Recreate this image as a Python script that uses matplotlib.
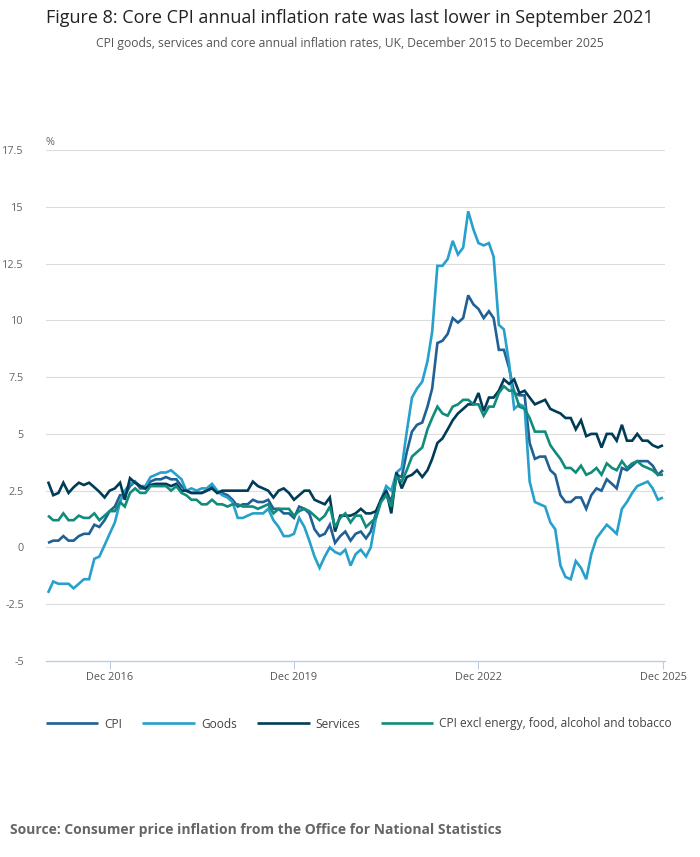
import matplotlib
matplotlib.use("Agg")
import matplotlib.pyplot as plt
import pandas as pd

plt.rcParams['font.family'] = ['Open Sans', 'DejaVu Sans']

months = pd.date_range('2015-12-01', periods=121, freq='MS')

cpi = [0.2,
       0.3, 0.3, 0.5, 0.3, 0.3, 0.5, 0.6, 0.6, 1.0, 0.9, 1.2, 1.6,
       1.8, 2.3, 2.3, 2.7, 2.9, 2.6, 2.6, 2.9, 3.0, 3.0, 3.1, 3.0,
       3.0, 2.7, 2.5, 2.4, 2.4, 2.4, 2.5, 2.7, 2.4, 2.4, 2.3, 2.1,
       1.8, 1.9, 1.9, 2.1, 2.0, 2.0, 2.1, 1.7, 1.7, 1.5, 1.5, 1.3,
       1.8, 1.7, 1.5, 0.8, 0.5, 0.6, 1.0, 0.2, 0.5, 0.7, 0.3, 0.6,
       0.7, 0.4, 0.7, 1.5, 2.1, 2.5, 2.0, 3.2, 3.1, 4.2, 5.1, 5.4,
       5.5, 6.2, 7.0, 9.0, 9.1, 9.4, 10.1, 9.9, 10.1, 11.1, 10.7, 10.5,
       10.1, 10.4, 10.1, 8.7, 8.7, 7.9, 6.8, 6.7, 6.7, 4.6, 3.9, 4.0,
       4.0, 3.4, 3.2, 2.3, 2.0, 2.0, 2.2, 2.2, 1.7, 2.3, 2.6, 2.5,
       3.0, 2.8, 2.6, 3.5, 3.4, 3.6, 3.8, 3.8, 3.8, 3.6, 3.2, 3.4]

goods = [-2.0,
         -1.5, -1.6, -1.6, -1.6, -1.8, -1.6, -1.4, -1.4, -0.5, -0.4, 0.1, 0.6,
         1.1, 2.0, 2.5, 2.8, 2.9, 2.7, 2.7, 3.1, 3.2, 3.3, 3.3, 3.4,
         3.2, 3.0, 2.5, 2.6, 2.5, 2.6, 2.6, 2.8, 2.5, 2.3, 2.2, 2.0,
         1.3, 1.3, 1.4, 1.5, 1.5, 1.5, 1.7, 1.2, 0.9, 0.5, 0.5, 0.6,
         1.3, 0.9, 0.3, -0.4, -0.9, -0.4, 0.0, -0.2, -0.3, -0.1, -0.8, -0.3,
         -0.1, -0.4, 0.0, 1.3, 2.1, 2.7, 2.5, 3.3, 3.5, 5.1, 6.6, 7.0,
         7.3, 8.2, 9.5, 12.4, 12.4, 12.7, 13.5, 12.9, 13.2, 14.8, 14.0, 13.4,
         13.3, 13.4, 12.8, 9.8, 9.6, 8.1, 6.1, 6.3, 6.2, 2.9, 2.0, 1.9,
         1.8, 1.1, 0.8, -0.8, -1.3, -1.4, -0.6, -0.9, -1.4, -0.3, 0.4, 0.7,
         1.0, 0.8, 0.6, 1.7, 2.0, 2.4, 2.7, 2.8, 2.9, 2.6, 2.1, 2.2]

services = [2.9,
            2.3, 2.4, 2.85, 2.4, 2.65, 2.85, 2.75, 2.85, 2.65, 2.45, 2.2, 2.5,
            2.6, 2.85, 2.1, 3.05, 2.85, 2.7, 2.6, 2.75, 2.8, 2.8, 2.8, 2.7,
            2.8, 2.5, 2.5, 2.4, 2.4, 2.4, 2.5, 2.6, 2.4, 2.5, 2.5, 2.5,
            2.5, 2.5, 2.5, 2.9, 2.7, 2.6, 2.5, 2.2, 2.5, 2.6, 2.4, 2.1,
            2.3, 2.5, 2.5, 2.1, 2.0, 1.9, 2.2, 0.7, 1.4, 1.4, 1.4, 1.5,
            1.7, 1.5, 1.5, 1.6, 2.1, 2.5, 1.5, 3.3, 2.6, 3.1, 3.2, 3.4,
            3.1, 3.4, 3.9, 4.6, 4.8, 5.2, 5.6, 5.9, 6.1, 6.3, 6.3, 6.8,
            6.0, 6.6, 6.6, 6.9, 7.4, 7.2, 7.4, 6.8, 6.9, 6.6, 6.3, 6.4,
            6.5, 6.1, 6.0, 5.9, 5.7, 5.7, 5.2, 5.6, 4.9, 5.0, 5.0, 4.4,
            5.0, 5.0, 4.7, 5.4, 4.7, 4.7, 5.0, 4.7, 4.7, 4.5, 4.4, 4.5]

core = [1.4,
        1.2, 1.2, 1.5, 1.2, 1.2, 1.4, 1.3, 1.3, 1.5, 1.2, 1.4, 1.6,
        1.6, 2.0, 1.8, 2.4, 2.6, 2.4, 2.4, 2.7, 2.7, 2.7, 2.7, 2.5,
        2.7, 2.4, 2.3, 2.1, 2.1, 1.9, 1.9, 2.1, 1.9, 1.9, 1.8, 1.9,
        1.9, 1.8, 1.8, 1.8, 1.7, 1.8, 1.9, 1.5, 1.7, 1.7, 1.7, 1.4,
        1.6, 1.7, 1.6, 1.4, 1.2, 1.4, 1.8, 0.9, 1.3, 1.5, 1.1, 1.4,
        1.4, 0.9, 1.1, 1.3, 2.0, 2.3, 1.8, 3.1, 2.9, 3.4, 4.0, 4.2,
        4.4, 5.2, 5.7, 6.2, 5.9, 5.8, 6.2, 6.3, 6.5, 6.5, 6.3, 6.3,
        5.8, 6.2, 6.2, 6.8, 7.1, 6.9, 6.9, 6.2, 6.1, 5.7, 5.1, 5.1,
        5.1, 4.5, 4.2, 3.9, 3.5, 3.5, 3.3, 3.6, 3.2, 3.3, 3.5, 3.2,
        3.7, 3.5, 3.4, 3.8, 3.5, 3.7, 3.8, 3.6, 3.5, 3.4, 3.2, 3.2]

series_names = ['CPI', 'Goods', 'Services',
                'CPI excl energy, food, alcohol and tobacco']
series_values = [cpi, goods, services, core]
series_colors = ['#206095', '#27a0cc', '#003c57', '#118c7b']

y_ticks = [-5, -2.5, 0, 2.5, 5, 7.5, 10, 12.5, 15, 17.5]
y_tick_labels = ['-5', '-2.5', '0', '2.5', '5', '7.5', '10', '12.5', '15', '17.5']
x_tick_dates = ['2016-12-01', '2019-12-01', '2022-12-01', '2025-12-01']
x_tick_labels = ['Dec 2016', 'Dec 2019', 'Dec 2022', 'Dec 2025']

fig = plt.figure(figsize=(7.0, 8.57), dpi=100)
ax = fig.add_axes([46 / 700, 196 / 857, 619 / 700, 511 / 857])

for name, vals, col in zip(series_names, series_values, series_colors):
    ax.plot(months, vals, color=col, lw=1.9, label=name,
            solid_joinstyle='miter', solid_capstyle='butt')

pad = pd.Timedelta(days=12)
ax.set_xlim(months[0] - pad, months[-1] + pad)
ax.set_ylim(-5, 17.5)
ax.set_yticks(y_ticks)
ax.set_yticklabels(y_tick_labels)
ax.set_xticks(pd.to_datetime(x_tick_dates))
ax.set_xticklabels(x_tick_labels)

for y in y_ticks[1:]:
    ax.axhline(y, color='#dcdcdc', lw=0.8, zorder=0)

for s in ['top', 'right', 'left']:
    ax.spines[s].set_visible(False)
ax.spines['bottom'].set_color('#bfcde3')
ax.spines['bottom'].set_linewidth(1.0)

ax.tick_params(axis='y', length=0, pad=16, labelsize=7.8, labelcolor='#666666')
ax.tick_params(axis='x', length=6, width=0.8, color='#bfcde3', pad=2,
               labelsize=7.8, labelcolor='#555555')
for lbl in ax.get_yticklabels():
    lbl.set_horizontalalignment('right')

ax.text(0, 1.0 + 2 / 511, '%', transform=ax.transAxes, fontsize=7.8,
        color='#666666', ha='left', va='bottom')

fig.text(0.5, 1 - 18 / 857, 'Figure 8: Core CPI annual inflation rate was last lower in September 2021',
         ha='center', va='center', fontsize=13.0, color='#222222')
fig.text(0.5, 1 - 44 / 857, 'CPI goods, services and core annual inflation rates, UK, December 2015 to December 2025',
         ha='center', va='center', fontsize=8.7, color='#555555')

fig.legend(loc='center left', bbox_to_anchor=(35 / 700, 1 - 724 / 857), ncol=4,
           frameon=False, fontsize=8.6, handlelength=4.4, handletextpad=0.5,
           columnspacing=1.7, labelcolor='#444444')

fig.text(10 / 700, 1 - 830 / 857,
         'Source: Consumer price inflation from the Office for National Statistics',
         ha='left', va='center', fontsize=10.0, fontweight='bold', color='#666666')

fig.savefig('out.png', dpi=100)
